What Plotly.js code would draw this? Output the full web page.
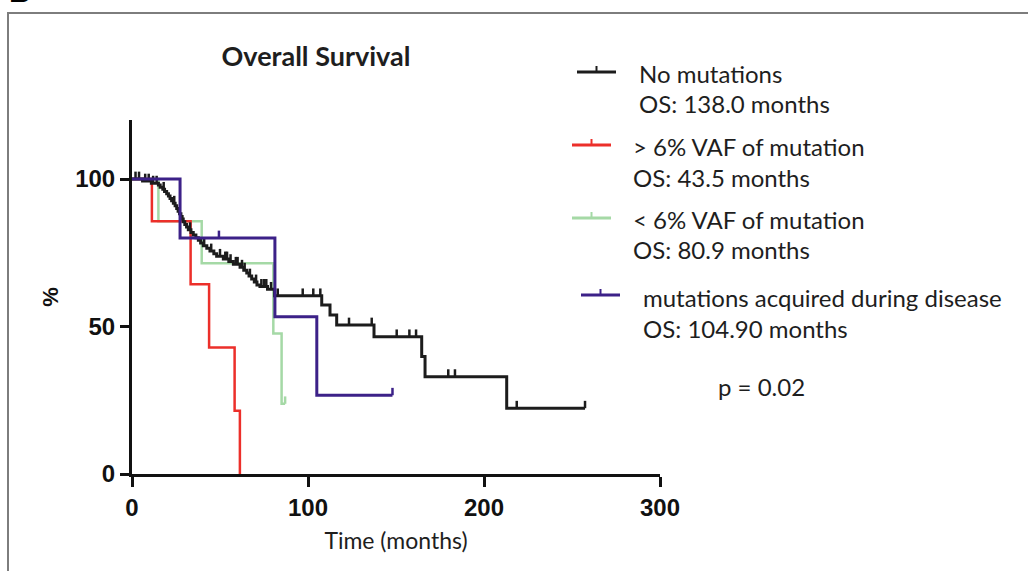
<!DOCTYPE html>
<html>
<head>
<meta charset="utf-8">
<script src="https://cdn.plot.ly/plotly-3.0.1.min.js"></script>
<style>
  html, body { margin: 0; padding: 0; background: #ffffff; }
  #chart { width: 1028px; height: 571px; }
</style>
</head>
<body>
<div id="chart"></div>
<script>
// Kaplan-Meier overall survival (months, % surviving)

// No mutations
const noMutTimes = [0, 6, 11, 15, 16, 17.5, 18.5, 19.7, 20.7, 21.6, 22.5, 23.5, 24.5, 25.4, 26.2, 27, 27.8, 28.5, 29.1, 30,
  31, 32, 33.5, 34.8, 36.3, 37.7, 39, 40.5, 42.5, 44.3, 46.5, 48.1, 51.9, 55, 57.6, 61.4, 63.5, 65.2, 66.5, 68,
  69.5, 71, 72.7, 77, 81, 107.8, 112.5, 116.3, 137.5, 164.6, 166.5, 212.9, 257.4];
const noMutSurv = [100, 99.3, 98.6, 98.0, 97.2, 96.5, 95.8, 95.0, 94.2, 93.4, 92.6, 91.8, 90.9, 90.0, 89.1, 88.2, 87.3, 86.4, 85.5, 84.6,
  83.7, 82.8, 81.9, 81.0, 80.1, 79.2, 78.3, 77.4, 76.5, 75.6, 74.7, 73.8, 72.9, 72.0, 71.1, 70.1, 69.1, 68.1, 67.1, 66.1,
  65.1, 64.1, 63.6, 62.6, 60.4, 57.3, 53.9, 50.5, 46.5, 39.8, 33.0, 22.3, 22.3];
const noMutCensored = [2, 4, 7.5, 9.5, 12, 14, 18, 24, 33, 41, 45, 50, 53, 54, 56, 59, 60, 62.5, 64, 67, 70.5, 73.5, 75, 76.3, 79,
  82.8, 97, 103, 107, 123.3, 136.2, 150.4, 157.6, 161.4, 179.7, 183.5, 218.6, 257.4];

// > 6% VAF of mutation
const highVafTimes = [0, 11.3, 33.3, 43.8, 58.3, 61.3];
const highVafSurv = [100, 85.7, 64.3, 42.9, 21.4, 0];
const highVafCensored = [];

// < 6% VAF of mutation
const lowVafTimes = [0, 15, 39.6, 80.3, 85, 87];
const lowVafSurv = [100, 85.7, 71.4, 47.6, 23.8, 23.8];
const lowVafCensored = [87];

// Mutations acquired during disease
const acquiredTimes = [0, 27.3, 81.2, 105, 148];
const acquiredSurv = [100, 80, 53.3, 26.7, 26.7];
const acquiredCensored = [49.4, 148];

const seriesNames = ['No mutations', '> 6% VAF of mutation', '< 6% VAF of mutation', 'mutations acquired during disease'];
const medianOS = ['OS: 138.0 months', 'OS: 43.5 months', 'OS: 80.9 months', 'OS: 104.90 months'];
const pValueText = 'p = 0.02';
const xTicks = [0, 100, 200, 300];
const yTicks = [0, 50, 100];

const COLORS = { none: '#1c1c1c', high: '#ec2f2a', low: '#a5d9a6', acquired: '#3c2188' };

// survival value of a step curve at time t
function survAt(times, surv, t) {
  let s = surv[0];
  for (let i = 0; i < times.length; i++) { if (times[i] <= t) s = surv[i]; }
  return s;
}
// short upward tick marks for censored observations
function censorTrace(times, surv, cens, color, width) {
  const x = [], y = [];
  cens.forEach(t => {
    const s = survAt(times, surv, t);
    x.push(t, t, null); y.push(s, s + 2.5, null);
  });
  return { x, y, type: 'scatter', mode: 'lines', hoverinfo: 'skip', showlegend: false,
           line: { color, width } };
}
function stepTrace(times, surv, color, width, name) {
  return { x: times, y: surv, type: 'scatter', mode: 'lines', name, showlegend: false,
           line: { shape: 'hv', color, width } };
}

const data = [
  stepTrace(lowVafTimes, lowVafSurv, COLORS.low, 2.5, seriesNames[2]),
  censorTrace(lowVafTimes, lowVafSurv, lowVafCensored, COLORS.low, 2.5),
  stepTrace(highVafTimes, highVafSurv, COLORS.high, 2.5, seriesNames[1]),
  censorTrace(highVafTimes, highVafSurv, highVafCensored, COLORS.high, 2.5),
  stepTrace(noMutTimes, noMutSurv, COLORS.none, 3, seriesNames[0]),
  censorTrace(noMutTimes, noMutSurv, noMutCensored, COLORS.none, 2.5),
  stepTrace(acquiredTimes, acquiredSurv, COLORS.acquired, 3, seriesNames[3]),
  censorTrace(acquiredTimes, acquiredSurv, acquiredCensored, COLORS.acquired, 2.5)
];

// plot area in pixels
const L = 132, R = 660, T = 120, B = 474;
const px = x => (x - L) / (R - L);
const py = y => (B - y) / (B - T);

const textFont = { family: 'Lato, "Open Sans", sans-serif', size: 24, color: '#1e1e1e' };

// legend: sample line with a censor tick, name, and median OS
const legendRows = [
  { color: COLORS.none, lx0: 577, lx1: 616, ly: 72, tx: 637, ty1: 73, ty2: 104 },
  { color: COLORS.high, lx0: 572, lx1: 611, ly: 145, tx: 631, ty1: 146, ty2: 177 },
  { color: COLORS.low, lx0: 572, lx1: 611, ly: 218, tx: 631, ty1: 219, ty2: 250 },
  { color: COLORS.acquired, lx0: 581, lx1: 620, ly: 295, tx: 641, ty1: 297, ty2: 328 }
];

const shapes = [
  // panel frame
  { type: 'rect', xref: 'paper', yref: 'paper', x0: px(8), x1: px(1040), y0: py(590), y1: py(13),
    line: { color: '#7d7d7d', width: 2 }, layer: 'below' }
];
const annotations = [];
legendRows.forEach((r, i) => {
  const mid = (r.lx0 + r.lx1) / 2;
  shapes.push({ type: 'line', xref: 'paper', yref: 'paper', x0: px(r.lx0), x1: px(r.lx1), y0: py(r.ly), y1: py(r.ly),
    line: { color: r.color, width: 3 } });
  shapes.push({ type: 'line', xref: 'paper', yref: 'paper', x0: px(mid), x1: px(mid), y0: py(r.ly), y1: py(r.ly - 6),
    line: { color: r.color, width: 2 } });
  annotations.push({ text: seriesNames[i], xref: 'paper', yref: 'paper', x: px(r.tx), y: py(r.ty1),
    xanchor: 'left', yanchor: 'middle', showarrow: false, font: textFont });
  annotations.push({ text: medianOS[i], xref: 'paper', yref: 'paper', x: px(r.tx), y: py(r.ty2),
    xanchor: 'left', yanchor: 'middle', showarrow: false, font: textFont });
});
annotations.push({ text: pValueText, xref: 'paper', yref: 'paper', x: px(761), y: py(386),
  xanchor: 'center', yanchor: 'middle', showarrow: false, font: textFont });
// panel letter
annotations.push({ text: '<b>B</b>', xref: 'paper', yref: 'paper', x: px(7), y: py(10),
  xanchor: 'left', yanchor: 'bottom', showarrow: false,
  font: { family: '"Liberation Sans", Arial, sans-serif', size: 30, color: '#000' } });

const tickFont = { family: '"Liberation Sans", Arial, sans-serif', size: 24, color: '#111', weight: 'bold' };

const layout = {
  width: 1028, height: 571,
  margin: { l: L, r: 1028 - R, t: T, b: 571 - B, pad: 0 },
  paper_bgcolor: '#ffffff', plot_bgcolor: '#ffffff',
  showlegend: false,
  title: { text: '<b>Overall Survival</b>', xref: 'paper', x: px(316), xanchor: 'center',
           yref: 'container', y: 1 - 57 / 571, yanchor: 'middle',
           font: { family: 'Lato, "Open Sans", sans-serif', size: 27, color: '#1e1e1e' } },
  xaxis: {
    range: [0, 300], tickvals: xTicks, ticktext: xTicks.map(String),
    showline: true, linecolor: '#111', linewidth: 3, mirror: false,
    ticks: 'outside', ticklen: 10, tickwidth: 3, tickcolor: '#111',
    showgrid: false, zeroline: false, tickfont: tickFont,
    title: { text: 'Time (months)', font: { family: 'Lato, "Open Sans", sans-serif', size: 23, color: '#1e1e1e' }, standoff: 14 }
  },
  yaxis: {
    range: [0, 120], tickvals: yTicks, ticktext: yTicks.map(String),
    showline: true, linecolor: '#111', linewidth: 3,
    ticks: 'outside', ticklen: 9, tickwidth: 3, tickcolor: '#111',
    showgrid: false, zeroline: false, tickfont: tickFont,
    title: { text: '<b>%</b>', font: { family: '"Liberation Sans", Arial, sans-serif', size: 22, color: '#111' }, standoff: 11 }
  },
  shapes, annotations
};

Plotly.newPlot('chart', data, layout, { staticPlot: true, displayModeBar: false });
</script>
</body>
</html>
